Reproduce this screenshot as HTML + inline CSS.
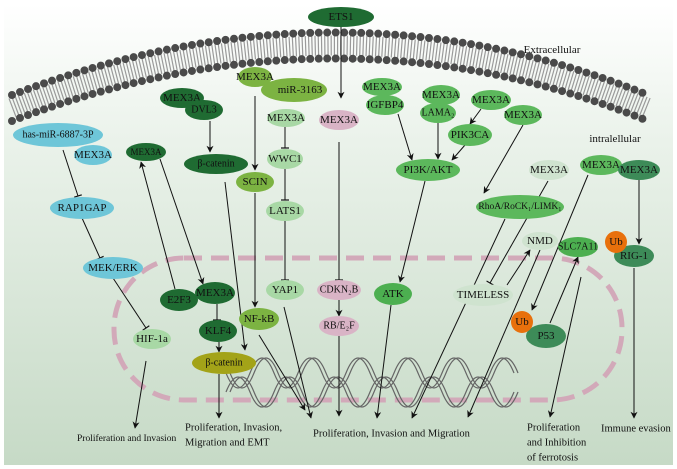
<!DOCTYPE html>
<html><head><meta charset="utf-8"><style>
html,body{margin:0;padding:0;width:677px;height:469px;overflow:hidden;background:#fff}
svg{display:block}
text{font-family:"Liberation Serif",serif;font-size:11px;fill:#111;text-anchor:middle;dominant-baseline:central}
.l{text-anchor:start;font-size:10.5px}
</style></head><body>
<svg width="677" height="469" viewBox="0 0 677 469" xmlns="http://www.w3.org/2000/svg">
<defs>
<linearGradient id="bg" x1="0" y1="0" x2="0" y2="1">
<stop offset="0" stop-color="#ffffff"/><stop offset="0.3" stop-color="#eaf2ea"/><stop offset="1" stop-color="#c6dac6"/>
</linearGradient>
<marker id="a" viewBox="0 0 10 10" refX="9" refY="5" markerWidth="7" markerHeight="7" orient="auto"><path d="M0,0L10,5L0,10L3,5z" fill="#111"/></marker>
<marker id="t" viewBox="0 0 10 10" refX="5" refY="5" markerWidth="8" markerHeight="8" orient="auto"><path d="M5,0V10" stroke="#111" stroke-width="1.5"/></marker>
</defs>
<rect x="4" y="4" width="669" height="461" fill="url(#bg)"/>
<!-- membrane -->
<path d="M12,108 Q340,-17 648,108" fill="none" stroke="#9a9a9a" stroke-width="20" stroke-dasharray="1.2 2"/>
<path d="M12,95 Q340,-30 648,95" fill="none" stroke="#4a4a4a" stroke-width="8" stroke-linecap="round" stroke-dasharray="0 8.5"/>
<path d="M12,121 Q340,-4 648,121" fill="none" stroke="#4a4a4a" stroke-width="8" stroke-linecap="round" stroke-dasharray="0 8.5"/>
<!-- nucleus -->
<rect x="114" y="258" width="508" height="142" rx="70" fill="none" stroke="#d2a9b9" stroke-width="5" stroke-dasharray="18 9"/>
<!-- DNA -->
<g fill="none" stroke="#666" stroke-width="1.2">
<path d="M226,392 q12,-30 24,0 t24,0 t24,0 t24,0 t24,0 t24,0 t24,0 t24,0 t24,0 t24,0 t24,0 t24,0"/>
<path d="M230,392 q12,-30 24,0 t24,0 t24,0 t24,0 t24,0 t24,0 t24,0 t24,0 t24,0 t24,0 t24,0 t24,0"/>
<path d="M226,373 q12,30 24,0 t24,0 t24,0 t24,0 t24,0 t24,0 t24,0 t24,0 t24,0 t24,0 t24,0 t24,0"/>
<path d="M230,373 q12,30 24,0 t24,0 t24,0 t24,0 t24,0 t24,0 t24,0 t24,0 t24,0 t24,0 t24,0 t24,0"/>
</g>
<!-- lines -->
<g stroke="#111" stroke-width="1" fill="none">
<path d="M341,27V98" marker-end="url(#a)"/>
<path d="M339,142V280" marker-end="url(#t)"/>
<path d="M339,300V316" marker-end="url(#a)"/>
<path d="M339,336V416" marker-end="url(#a)"/>
<path d="M210,121V152" marker-end="url(#a)"/>
<path d="M255,96V170" marker-end="url(#a)"/>
<path d="M255,193V307" marker-end="url(#a)"/>
<path d="M285,127V148" marker-end="url(#t)"/>
<path d="M285,169V200" marker-end="url(#t)"/>
<path d="M285,221V280" marker-end="url(#t)"/>
<path d="M284,307L311,418" marker-end="url(#a)"/>
<path d="M259,335L305,410" marker-end="url(#a)"/>
<path d="M225,182L245,350" marker-end="url(#a)"/>
<path d="M63,150L78,196" marker-end="url(#t)"/>
<path d="M82,218L100,258" marker-end="url(#t)"/>
<path d="M113,278L146,328" marker-end="url(#t)"/>
<path d="M146,361L135,428" marker-end="url(#a)"/>
<path d="M175,289L141,162" marker-end="url(#a)"/>
<path d="M160,159L203,284" marker-end="url(#a)"/>
<path d="M217,304V320" marker-end="url(#t)"/>
<path d="M219,342V352" marker-end="url(#a)"/>
<path d="M219,374V418" marker-end="url(#a)"/>
<path d="M398,114L412,160" marker-end="url(#a)"/>
<path d="M438,123V159" marker-end="url(#a)"/>
<path d="M465,145L452,160" marker-end="url(#a)"/>
<path d="M481,109L470,124" marker-end="url(#a)"/>
<path d="M425,181L400,282" marker-end="url(#a)"/>
<path d="M391,305L377,418" marker-end="url(#a)"/>
<path d="M523,125L484,193" marker-end="url(#a)"/>
<path d="M505,219L412,418" marker-end="url(#a)"/>
<path d="M548,181L490,283" marker-end="url(#t)"/>
<path d="M507,285L530,250" marker-end="url(#a)"/>
<path d="M540,250L468,417" marker-end="url(#a)"/>
<path d="M588,175L532,310" marker-end="url(#a)"/>
<path d="M550,323L578,257" marker-end="url(#a)"/>
<path d="M581,277L550,417" marker-end="url(#a)"/>
<path d="M639,180V244" marker-end="url(#a)"/>
<path d="M634,268V418" marker-end="url(#a)"/>
</g>
<!-- nodes -->
<g>
<ellipse cx="341" cy="17" rx="33" ry="10" fill="#1f6b32"/><text x="341" y="17">ETS1</text>
<ellipse cx="182" cy="98" rx="22" ry="10" fill="#1f6b32"/><text x="182" y="98">MEX3A</text>
<ellipse cx="204" cy="110" rx="19" ry="10" fill="#1f6b32"/><text x="204" y="110" style="font-size:10px">DVL3</text>
<ellipse cx="294" cy="90" rx="33" ry="12" fill="#7cb342"/><text x="300" y="90">miR-3163</text>
<ellipse cx="255" cy="77" rx="17" ry="10" fill="#7cb342"/><text x="255" y="77">MEX3A</text>
<ellipse cx="286" cy="118" rx="19" ry="9" fill="#a8d8a5"/><text x="286" y="118">MEX3A</text>
<ellipse cx="285" cy="159" rx="18" ry="10" fill="#a8d8a5"/><text x="285" y="159">WWC1</text>
<ellipse cx="285" cy="211" rx="19" ry="10" fill="#a8d8a5"/><text x="285" y="211">LATS1</text>
<ellipse cx="285" cy="290" rx="19" ry="10" fill="#a8d8a5"/><text x="285" y="290">YAP1</text>
<ellipse cx="339" cy="120" rx="20" ry="10" fill="#d9b4c6"/><text x="339" y="120">MEX3A</text>
<ellipse cx="58" cy="135" rx="45" ry="12" fill="#6ec6d8"/><text x="58" y="135" style="font-size:10px">has-miR-6887-3P</text>
<ellipse cx="93" cy="155" rx="19" ry="10" fill="#6ec6d8"/><text x="93" y="155">MEX3A</text>
<ellipse cx="146" cy="152" rx="20" ry="9" fill="#1f6b32"/><text x="146" y="152" style="font-size:9px">MEX3A</text>
<ellipse cx="216" cy="164" rx="32" ry="10" fill="#1f6b32"/><text x="216" y="164" style="font-size:10px">β-catenin</text>
<ellipse cx="255" cy="182" rx="19" ry="10" fill="#7cb342"/><text x="255" y="182">SCIN</text>
<ellipse cx="82" cy="208" rx="32" ry="11" fill="#6ec6d8"/><text x="82" y="208">RAP1GAP</text>
<ellipse cx="113" cy="268" rx="30" ry="11" fill="#6ec6d8"/><text x="113" y="268">MEK/ERK</text>
<ellipse cx="152" cy="339" rx="19" ry="10" fill="#a8d8a5"/><text x="152" y="339">HIF-1a</text>
<ellipse cx="179" cy="300" rx="19" ry="11" fill="#1f6b32"/><text x="179" y="300">E2F3</text>
<ellipse cx="215" cy="293" rx="20" ry="11" fill="#1f6b32"/><text x="215" y="293">MEX3A</text>
<ellipse cx="218" cy="331" rx="19" ry="11" fill="#1f6b32"/><text x="218" y="331">KLF4</text>
<ellipse cx="224" cy="363" rx="32" ry="11" fill="#a3a318"/><text x="224" y="363" style="font-size:10px">β-catenin</text>
<ellipse cx="259" cy="319" rx="20" ry="11" fill="#7cb342"/><text x="259" y="319">NF-kB</text>
<ellipse cx="339" cy="290" rx="22" ry="10" fill="#d9b4c6"/><text x="339" y="290" style="font-size:10px">CDKN₂B</text>
<ellipse cx="339" cy="326" rx="20" ry="10" fill="#d9b4c6"/><text x="339" y="326" style="font-size:10px">RB/E₂F</text>
<ellipse cx="382" cy="87" rx="20" ry="9" fill="#5cb85c"/><text x="382" y="87">MEX3A</text>
<ellipse cx="385" cy="105" rx="19" ry="10" fill="#5cb85c"/><text x="385" y="105">IGFBP4</text>
<ellipse cx="441" cy="95" rx="19" ry="10" fill="#5cb85c"/><text x="441" y="95">MEX3A</text>
<ellipse cx="438" cy="113" rx="18" ry="10" fill="#5cb85c"/><text x="438" y="113" style="font-size:10px">LAMA₂</text>
<ellipse cx="491" cy="100" rx="20" ry="10" fill="#5cb85c"/><text x="491" y="100">MEX3A</text>
<ellipse cx="470" cy="135" rx="22" ry="11" fill="#5cb85c"/><text x="470" y="135">PIK3CA</text>
<ellipse cx="523" cy="115" rx="19" ry="10" fill="#5cb85c"/><text x="523" y="115">MEX3A</text>
<ellipse cx="428" cy="170" rx="32" ry="11" fill="#5cb85c"/><text x="428" y="170">PI3K/AKT</text>
<ellipse cx="520" cy="207" rx="44" ry="12" fill="#5cb85c"/><text x="520" y="207" style="font-size:9.5px">RhoA/RoCK₁/LIMK₁</text>
<ellipse cx="393" cy="294" rx="19" ry="11" fill="#4caf50"/><text x="393" y="294">ATK</text>
<ellipse cx="549" cy="170" rx="20" ry="10" fill="#cfe3cf"/><text x="549" y="170">MEX3A</text>
<ellipse cx="601" cy="165" rx="21" ry="10" fill="#5cb85c"/><text x="601" y="165">MEX3A</text>
<ellipse cx="639" cy="170" rx="21" ry="10" fill="#3d8b58"/><text x="639" y="170">MEX3A</text>
<ellipse cx="540" cy="241" rx="18" ry="9" fill="#cfe3cf"/><text x="540" y="241">NMD</text>
<ellipse cx="578" cy="247" rx="20" ry="10" fill="#4caf50"/><text x="578" y="247" style="font-size:10px">SLC7A11</text>
<ellipse cx="634" cy="256" rx="20" ry="11" fill="#3d8b58"/><text x="634" y="256">RIG-1</text>
<circle cx="616" cy="242" r="11" fill="#e8700c"/><text x="616" y="242">Ub</text>
<ellipse cx="483" cy="295" rx="30" ry="11" fill="#cfe3cf"/><text x="483" y="295">TIMELESS</text>
<ellipse cx="546" cy="336" rx="20" ry="12" fill="#3d8b58"/><text x="546" y="336">P53</text>
<circle cx="522" cy="322" r="11" fill="#e8700c"/><text x="522" y="322">Ub</text>
</g>
<text x="552" y="50">Extracellular</text>
<text x="615" y="139">intralellular</text>
<text class="l" x="77" y="439" style="font-size:9.5px">Proliferation and Invasion</text>
<text class="l" x="185" y="428">Proliferation, Invasion,</text>
<text class="l" x="185" y="443">Migration and EMT</text>
<text class="l" x="313" y="434">Proliferation, Invasion and Migration</text>
<text class="l" x="527" y="428">Proliferation</text>
<text class="l" x="527" y="443">and Inhibition</text>
<text class="l" x="527" y="458">of ferrotosis</text>
<text class="l" x="601" y="429">Immune evasion</text>
</svg>
</body></html>
